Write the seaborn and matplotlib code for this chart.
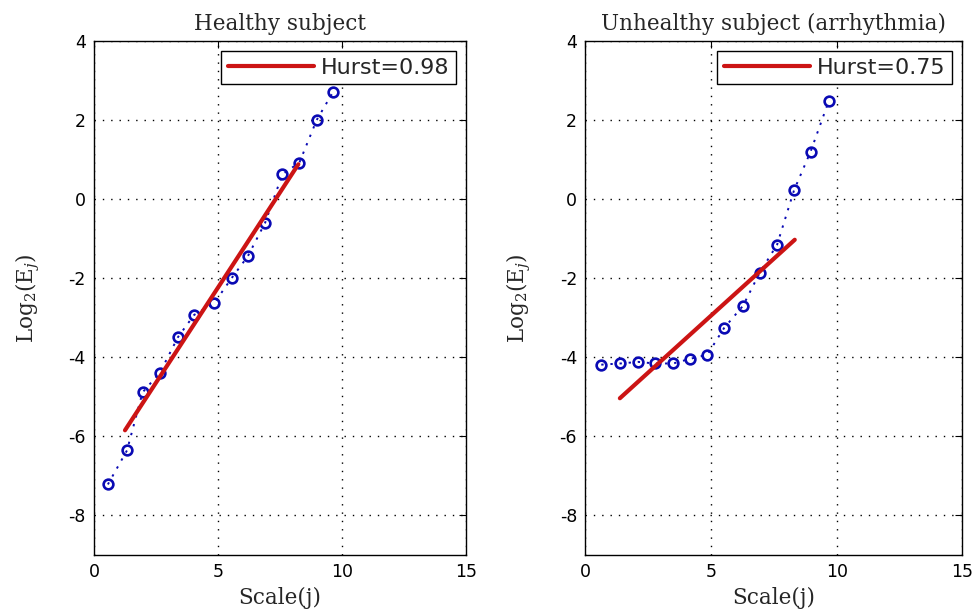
import numpy as np
import pandas as pd
import seaborn as sns
import matplotlib
matplotlib.use("Agg")
import matplotlib.pyplot as plt

sns.set_style("white")
plt.rcParams['font.family'] = ['DejaVu Sans']
plt.rcParams['axes.unicode_minus'] = False
plt.rcParams['mathtext.fontset'] = 'dejavuserif'

# scale values (j)
scale_healthy = [0.56, 1.33, 1.96, 2.66, 3.39, 4.04, 4.84, 5.55, 6.2, 6.9, 7.6, 8.28, 8.98, 9.65]
log_e_healthy = [-7.22, -6.36, -4.89, -4.39, -3.49, -2.93, -2.64, -2.0, -1.45, -0.6, 0.63, 0.92, 2.0, 2.72]
fit_x_healthy = [1.25, 8.24]
fit_y_healthy = [-5.85, 0.88]

scale_unhealthy = [0.63, 1.39, 2.10, 2.75, 3.49, 4.18, 4.85, 5.51, 6.27, 6.93, 7.63, 8.30, 8.96, 9.69]
log_e_unhealthy = [-4.19, -4.16, -4.12, -4.16, -4.16, -4.04, -3.94, -3.27, -2.70, -1.87, -1.15, 0.22, 1.2, 2.49]
fit_x_unhealthy = [1.37, 8.33]
fit_y_unhealthy = [-5.04, -1.03]

titles = ["Healthy subject", "Unhealthy subject (arrhythmia)"]
hurst = ["Hurst=0.98", "Hurst=0.75"]

panels = [
    (scale_healthy, log_e_healthy, fit_x_healthy, fit_y_healthy),
    (scale_unhealthy, log_e_unhealthy, fit_x_unhealthy, fit_y_unhealthy),
]

fig = plt.figure(figsize=(9.79, 6.11), dpi=100)
boxes = [[0.096, 0.092, 0.380, 0.841], [0.598, 0.092, 0.385, 0.841]]

serif = ['DejaVu Serif']

for i, (sx, sy, fx, fy) in enumerate(panels):
    ax = fig.add_axes(boxes[i])
    pts = pd.DataFrame({'scale': sx, 'loge': sy})
    fit = pd.DataFrame({'scale': fx, 'loge': fy})
    sns.lineplot(data=pts, x='scale', y='loge', ax=ax, color='#0a0ab4',
                 linestyle=(0, (1.2, 3.5)), linewidth=1.4, marker='o', markersize=7,
                 markerfacecolor='none', markeredgecolor='#0a0ab4',
                 markeredgewidth=1.9, sort=False)
    sns.lineplot(data=fit, x='scale', y='loge', ax=ax, color='#cc1414',
                 linewidth=3, label=hurst[i], sort=False)
    ax.set_xlim(0, 15)
    ax.set_ylim(-9, 4)
    ax.set_xticks([0, 5, 10, 15])
    ax.set_yticks([-8, -6, -4, -2, 0, 2, 4])
    ax.grid(True, color='black', linestyle=(0, (1, 5)), linewidth=1.0)
    ax.tick_params(direction='in', top=True, right=True, length=5,
                   labelsize=12.5, colors='black', pad=6)
    for s in ax.spines.values():
        s.set_color('black')
        s.set_linewidth(1.0)
    ax.set_title(titles[i], fontsize=15.5, family=serif, pad=8)
    ax.set_xlabel('Scale(j)', fontsize=15.5, family=serif, labelpad=4)
    ax.set_ylabel('Log$_2$(E$_j$)', fontsize=15.5, family=serif, labelpad=19)
    leg = ax.legend(loc='upper right', handlelength=3.9,
                    fancybox=False, framealpha=1, edgecolor='black',
                    borderaxespad=0.45, handletextpad=0.3, borderpad=0.3,
                    prop={'family': ['DejaVu Sans'], 'size': 16})
    leg.get_frame().set_linewidth(1.0)

plt.savefig('out.png', dpi=100)
